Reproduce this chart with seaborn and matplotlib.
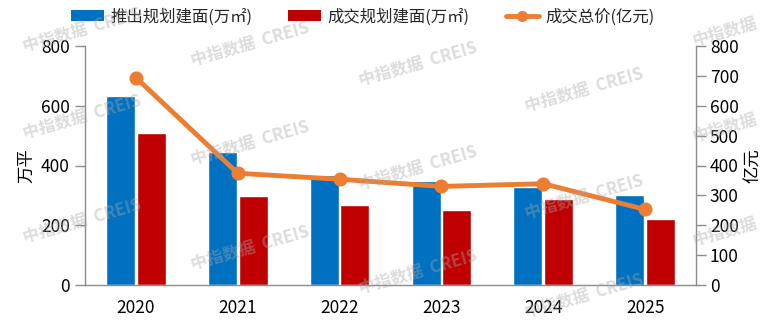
import matplotlib
matplotlib.use("Agg")
import matplotlib.pyplot as plt
import seaborn as sns
import pandas as pd
import numpy as np
from matplotlib.patches import Patch
from matplotlib.lines import Line2D

years = ["2020", "2021", "2022", "2023", "2024", "2025"]
launch_area = [631, 444, 367, 348, 328, 301]      # 推出规划建面(万㎡)
deal_area = [508, 298, 268, 250, 288, 220]        # 成交规划建面(万㎡)
deal_value = [694, 374, 354, 330, 339, 253]       # 成交总价(亿元)
series_names = ["推出规划建面(万㎡)", "成交规划建面(万㎡)", "成交总价(亿元)"]
left_ticks = [0, 200, 400, 600, 800]
right_ticks = [0, 100, 200, 300, 400, 500, 600, 700, 800]

BLUE = "#0070C0"
RED = "#C00000"
ORANGE = "#ED7D31"
SPINE = "#8c8c8c"

sns.set_theme(style="white")
plt.rcParams["font.family"] = ["Noto Sans CJK SC", "DejaVu Sans"]

df = pd.DataFrame({
    "year": years * 2,
    "value": launch_area + deal_area,
    "series": [series_names[0]] * len(years) + [series_names[1]] * len(years),
})

fig = plt.figure(figsize=(7.81, 3.25), dpi=100)
ax = fig.add_axes([85 / 781, 1 - 285 / 325, (696 - 85) / 781, (285 - 46) / 325])

sns.barplot(data=df, x="year", y="value", hue="series", order=years,
            hue_order=series_names[:2], palette=[BLUE, RED],
            width=0.6, gap=0.05, saturation=1, legend=False, ax=ax)

ax2 = ax.twinx()
sns.pointplot(x=years, y=deal_value, order=years, color=ORANGE, ax=ax2,
              markers="o", linestyles="-", errorbar=None,
              markersize=7.5, linewidth=3.5)

for a in (ax, ax2):
    a.set_xlim(-0.5, len(years) - 0.5)
    a.set_ylim(0, 800)
    a.spines["top"].set_visible(False)
ax.spines["right"].set_visible(False)
ax2.spines["left"].set_visible(False)
ax2.spines["bottom"].set_visible(False)
for a, side in ((ax, "left"), (ax2, "right")):
    a.spines[side].set_color(SPINE)
    a.spines[side].set_linewidth(1.0)
ax.spines["bottom"].set_color(SPINE)
ax.spines["bottom"].set_linewidth(1.0)

ax.set_yticks(left_ticks)
ax2.set_yticks(right_ticks)
ax.tick_params(axis="y", which="both", left=True, length=7, width=1,
               color=SPINE, labelsize=12.5, pad=4, labelcolor="black")
ax2.tick_params(axis="y", which="both", right=True, length=7, width=1,
                color=SPINE, labelsize=12.5, pad=3, labelcolor="black")
ax.tick_params(axis="x", bottom=False, labelsize=12.5, pad=4, labelcolor="black")
ax.set_xticks(range(len(years)))
ax.set_xticklabels(years)
ax.set_xlabel("")
ax2.set_xlabel("")
ax.set_ylabel("万平", fontsize=12.5, labelpad=4, color="black")
ax2.set_ylabel("亿元", fontsize=12.5, labelpad=4, color="black", rotation=90)
ax.grid(False)
ax2.grid(False)
ax.set_zorder(1)
ax2.set_zorder(2)
ax.patch.set_visible(False)
ax2.patch.set_visible(False)

handles = [
    Patch(facecolor=BLUE, edgecolor="none"),
    Patch(facecolor=RED, edgecolor="none"),
    Line2D([0], [0], color=ORANGE, lw=3.5, marker="o", markersize=7),
]
fig.legend(handles, series_names, loc="center left", bbox_to_anchor=(71 / 781, 1 - 17 / 325),
           ncol=3, frameon=False, fontsize=11.8, handlelength=2.0, handleheight=0.65,
           handletextpad=0.4, columnspacing=2.2, borderpad=0, borderaxespad=0)

# watermark (faint, repeated)
wm = [
    (82, 30, "中指数据  CREIS"), (250, 44, "中指数据  CREIS"), (418, 64, "中指数据  CREIS"),
    (584, 90, "中指数据  CREIS"), (725, 32, "中指数据"),
    (82, 117, "中指数据  CREIS"), (250, 143, "中指数据  CREIS"), (418, 168, "中指数据  CREIS"),
    (584, 197, "中指数据  CREIS"), (725, 128, "中指数据"),
    (82, 221, "中指数据  CREIS"), (250, 248, "中指数据  CREIS"), (418, 272, "中指数据  CREIS"),
    (584, 296, "中指数据  CREIS"), (725, 232, "中指数据"),
]
for cx, cy, t in wm:
    fig.text(cx / 781, 1 - cy / 325, t, fontsize=12, fontweight="bold",
             color="#a8a8a8", alpha=0.4, rotation=16, ha="center", va="center",
             zorder=10)

fig.savefig("out.png", dpi=100)
